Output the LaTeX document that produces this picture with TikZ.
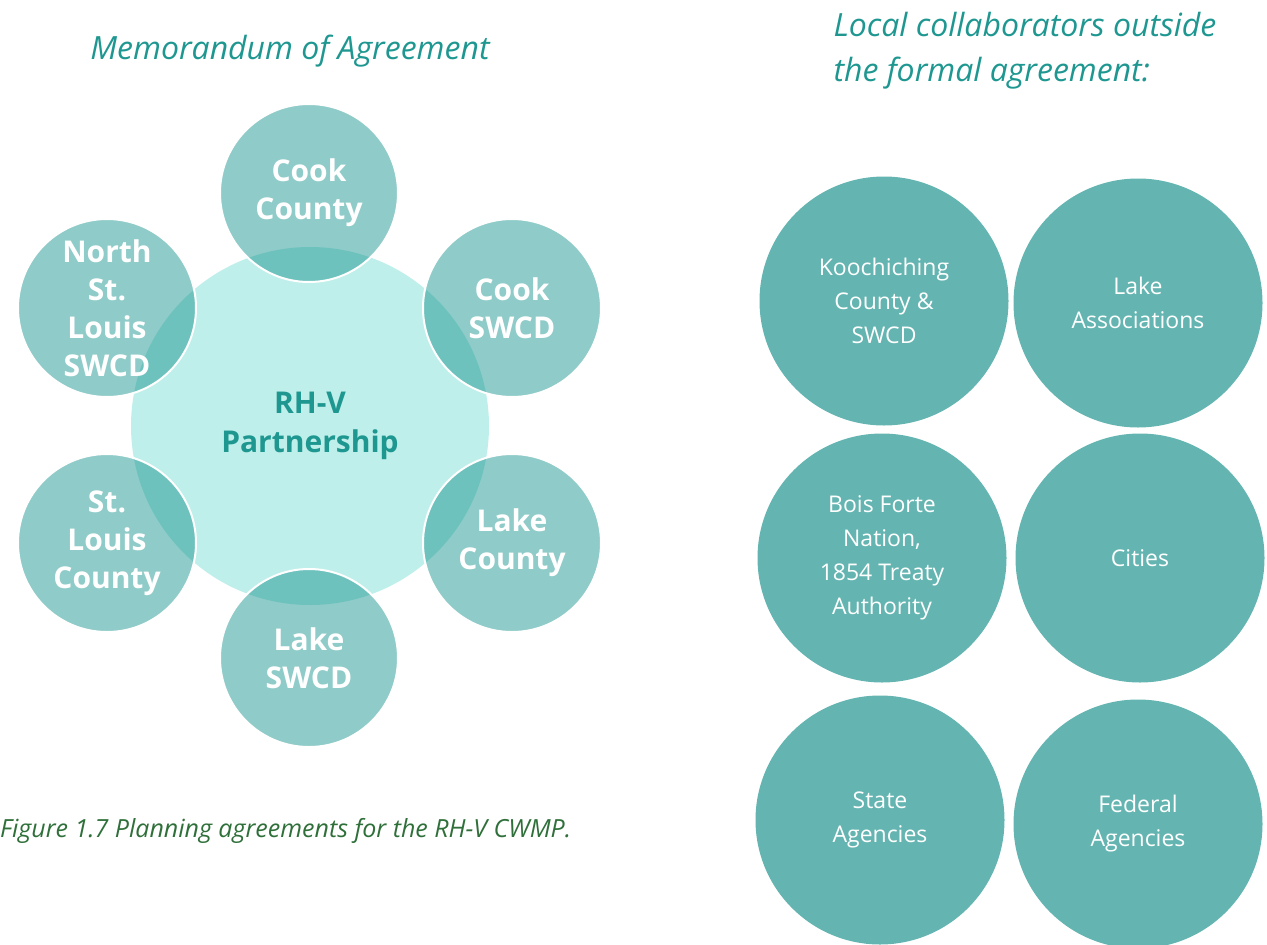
\documentclass[tikz,border=0pt]{standalone}
\usepackage{fontspec}
\setmainfont{Open Sans}
\definecolor{teal}{RGB}{31,151,145}
\definecolor{pale}{RGB}{191,239,234}
\definecolor{solid}{RGB}{100,181,177}
\definecolor{caption}{RGB}{47,112,58}
\begin{document}
\begin{tikzpicture}[x=1pt, y=-1pt,
  member/.style={circle, minimum size=178pt, inner sep=0pt, fill=teal, fill opacity=0.5,
    draw=white, draw opacity=1, line width=2pt, text opacity=1, text=white, align=center,
    font=\fontsize{30}{38}\selectfont\bfseries},
  outside/.style={circle, minimum size=249pt, inner sep=0pt, fill=solid, text=white, align=center,
    font=\fontsize{23}{34}\selectfont},
  heading/.style={text=teal, font=\fontsize{32}{45}\selectfont\itshape}]
\useasboundingbox (0,0) rectangle (1267,945);
\node[heading] (t1) at (290,51) {Memorandum of Agreement};
\node[heading, anchor=west, align=left] (t2) at (830,51) {Local collaborators outside\\the formal agreement:};
\node[circle, minimum size=358pt, inner sep=0pt, fill=pale, text=teal, align=center,
  font=\fontsize{30}{39}\selectfont\bfseries] (p) at (310,426) {RH-V\\Partnership};
\node[member] (a) at (309,193) {Cook\\County};
\node[member] (b) at (512,308) {Cook\\SWCD};
\node[member] (c) at (512,543) {Lake\\County};
\node[member] (d) at (309,658) {Lake\\SWCD};
\node[member] (e) at (107,543) {St.\\Louis\\County};
\node[member] (f) at (107,308) {North\\St.\\Louis\\SWCD};
\node[outside] (g) at (884,301) {Koochiching\\County \&\\SWCD};
\node[outside] (h) at (1138,303) {Lake\\Associations};
\node[outside] (i) at (882,558) {Bois Forte\\Nation,\\1854 Treaty\\Authority};
\node[outside] (j) at (1140,558) {Cities};
\node[outside] (k) at (880,820) {State\\Agencies};
\node[outside] (l) at (1138,824) {Federal\\Agencies};
\node[anchor=west, inner sep=0pt, text=caption, font=\fontsize{25}{30}\selectfont\itshape] (cap) at (0,831)
  {Figure 1.7 Planning agreements for the RH-V CWMP.};
\end{tikzpicture}
\end{document}
